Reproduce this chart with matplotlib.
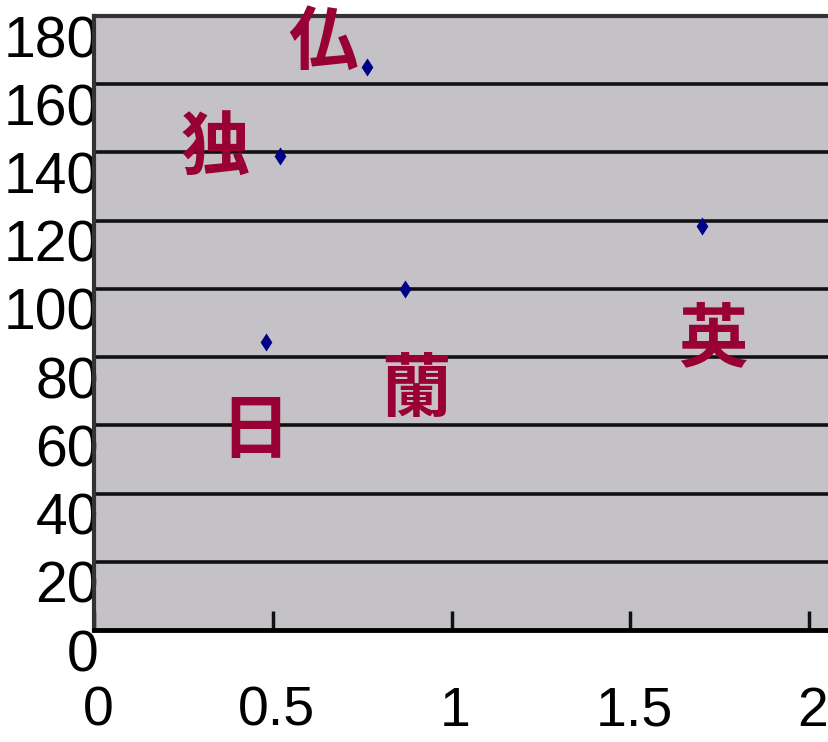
import matplotlib
matplotlib.use("Agg")
import matplotlib.pyplot as plt
import matplotlib.transforms as mtransforms

# Data
countries = ["日", "独", "仏", "蘭", "英"]
x_vals = [0.48, 0.52, 0.765, 0.87, 1.70]
y_vals = [84.5, 139, 165, 100, 118.5]
label_x = [0.45, 0.34, 0.64, 0.90, 1.73]
label_y = [58, 141, 172, 70, 85]
x_ticks = [0, 0.5, 1, 1.5, 2]
x_ticklabels = ["0", "0.5", "1", "1.5", "2"]
y_ticks = [0, 20, 40, 60, 80, 100, 120, 140, 160, 180]

W, H = 829, 742
fig = plt.figure(figsize=(W / 100, H / 100), dpi=100)
ax = fig.add_axes([94 / W, 1 - 630 / H, (W - 94) / W, (630 - 16) / H])
ax.set_facecolor("#C4C2C6")
ax.set_xlim(0, (W - 94) / 357.5)
ax.set_ylim(0, 180)

for yv in y_ticks[1:]:
    ax.axhline(yv, color="#111111", lw=2.6, zorder=1)

diamond = [(0, 1), (0.65, 0), (0, -1), (-0.65, 0), (0, 1)]
ax.scatter(x_vals, y_vals, marker=diamond, s=170, color="#000088", zorder=3,
           linewidths=0)

for name, lx, ly in zip(countries, label_x, label_y):
    ax.text(lx, ly, name, fontsize=50, color="#990033", fontweight="bold",
            ha="center", va="center", family=["Noto Sans CJK JP", "DejaVu Sans"],
            zorder=4)

num_font = ["Liberation Sans", "DejaVu Sans"]
ax.set_xticks(x_ticks)
ax.set_xticklabels(x_ticklabels, fontsize=40, family=num_font)
ax.set_yticks(y_ticks)
ax.set_yticklabels([str(v) for v in y_ticks], fontsize=41, family=num_font)
ax.tick_params(axis="x", direction="in", length=14, width=2.5, color="#111111", pad=40)
ax.tick_params(axis="y", length=0, pad=0)

dy = mtransforms.ScaledTranslation(5 / 100, -20 / 100, fig.dpi_scale_trans)
for lab in ax.get_yticklabels():
    lab.set_transform(lab.get_transform() + dy)
dx = mtransforms.ScaledTranslation(4 / 100, 0, fig.dpi_scale_trans)
for lab in ax.get_xticklabels():
    lab.set_transform(lab.get_transform() + dx)

ax.spines["right"].set_visible(False)
ax.spines["top"].set_color("#333333")
ax.spines["top"].set_linewidth(3)
ax.spines["left"].set_color("#333333")
ax.spines["left"].set_linewidth(3)
ax.spines["bottom"].set_color("#000000")
ax.spines["bottom"].set_linewidth(3.5)

fig.savefig("out.png", dpi=100)
